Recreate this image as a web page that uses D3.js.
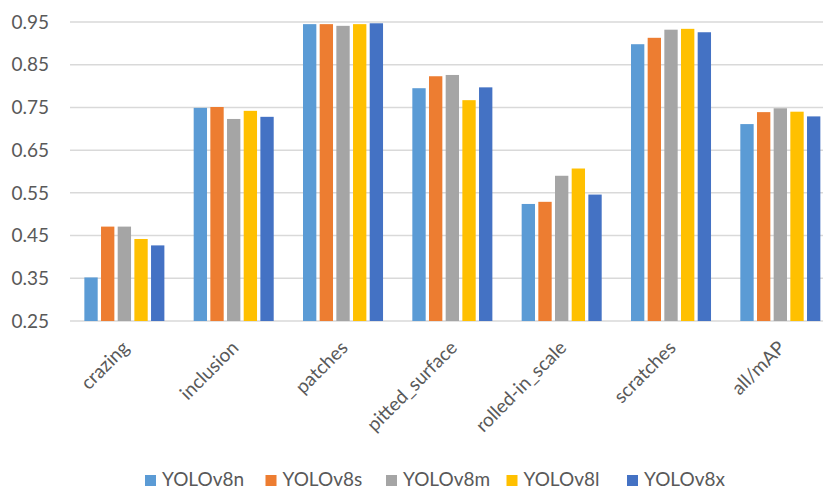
<!DOCTYPE html>
<html>
<head>
<meta charset="utf-8">
<script src="https://cdn.jsdelivr.net/npm/d3@7"></script>
<style>
body{margin:0;background:#fff;}
svg text{font-family:Lato,"Open Sans",sans-serif;fill:#595959;}
</style>
</head>
<body>
<svg width="823" height="488"></svg>
<script>
(()=>{

//data
const categories = ["crazing","inclusion","patches","pitted_surface","rolled-in_scale","scratches","all/mAP"];
const seriesNames = ["YOLOv8n","YOLOv8s","YOLOv8m","YOLOv8l","YOLOv8x"];
const yolov8n = [0.352,0.749,0.945,0.795,0.524,0.898,0.711];
const yolov8s = [0.471,0.751,0.945,0.823,0.529,0.913,0.739];
const yolov8m = [0.471,0.723,0.941,0.826,0.590,0.932,0.748];
const yolov8l = [0.442,0.742,0.945,0.767,0.607,0.934,0.740];
const yolov8x = [0.427,0.728,0.947,0.797,0.546,0.926,0.729];
const yTicks = [0.25,0.35,0.45,0.55,0.65,0.75,0.85,0.95];
const colors = ["#5B9BD5","#ED7D31","#A5A5A5","#FFC000","#4472C4"];

const values = [yolov8n,yolov8s,yolov8m,yolov8l,yolov8x];

let svg = d3.select("svg");

//scales: plot runs past the right edge, as in the picture
let x0 = d3.scaleBand()
	.domain(categories)
	.range([69.7, 835])
	.paddingInner(0.268)
	.paddingOuter(0.134);
let x1 = d3.scaleBand()
	.domain(seriesNames)
	.range([0, x0.bandwidth()])
	.paddingInner(0.2);
let y = d3.scaleLinear()
	.domain([0.25, 0.95])
	.range([321, 22]);

//gridlines
svg.selectAll(".grid")
	.data(yTicks)
	.enter().append("line")
	.attr("class","grid")
	.attr("x1", 70)
	.attr("x2", 823)
	.attr("y1", d => y(d))
	.attr("y2", d => y(d))
	.attr("stroke", "#D9D9D9")
	.attr("stroke-width", 1.5);

//y tick labels
svg.selectAll(".ylab")
	.data(yTicks)
	.enter().append("text")
	.attr("class","ylab")
	.attr("x", 49)
	.attr("y", d => y(d))
	.attr("dy", "0.35em")
	.attr("text-anchor","end")
	.style("font-size","19px")
	.text(d => d3.format(".2f")(d));

//bars
let rows = [];
categories.forEach((c,i) => {
	seriesNames.forEach((s,j) => {
		rows.push({cat:c, series:s, value:values[j][i], color:colors[j]});
	});
});
svg.selectAll(".bar")
	.data(rows)
	.enter().append("rect")
	.attr("class","bar")
	.attr("x", d => x0(d.cat) + x1(d.series))
	.attr("width", x1.bandwidth())
	.attr("y", d => y(d.value))
	.attr("height", d => y(0.25) - y(d.value))
	.attr("fill", d => d.color);

//category labels, rotated
svg.selectAll(".xlab")
	.data(categories)
	.enter().append("text")
	.attr("class","xlab")
	.attr("text-anchor","end")
	.style("font-size","19px")
	.attr("transform", d => "translate(" + (x0(d) + x0.bandwidth()/2 + 6) + ",349) rotate(-45)")
	.text(d => d);

//legend
let legend = svg.selectAll(".legend")
	.data(seriesNames)
	.enter().append("g")
	.attr("class","legend")
	.attr("transform", (d,i) => "translate(" + (145 + i*120.5) + ",475)");
legend.append("rect")
	.attr("width", 11)
	.attr("height", 11)
	.attr("fill", (d,i) => colors[i]);
legend.append("text")
	.attr("x", 17)
	.attr("y", 11)
	.style("font-size","19px")
	.text(d => d);

})();
</script>
</body>
</html>
